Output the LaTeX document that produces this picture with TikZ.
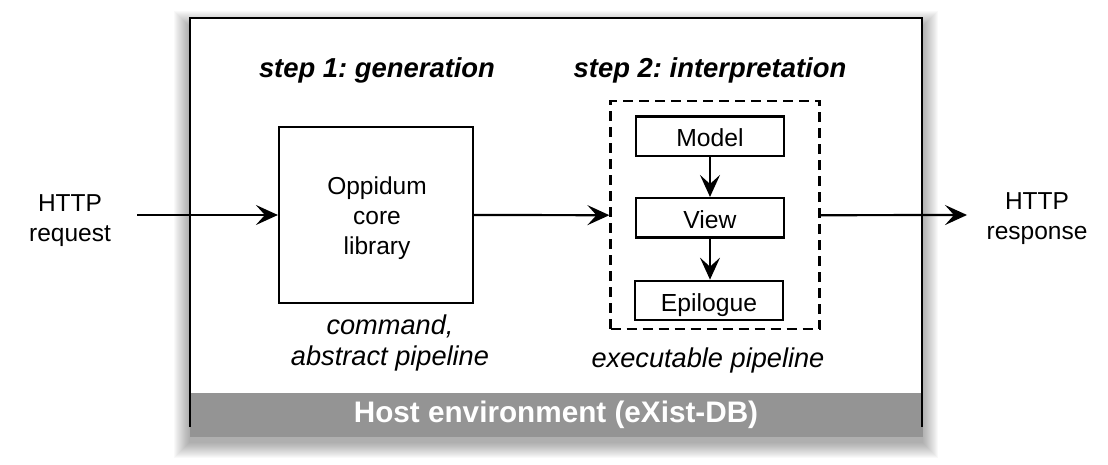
\documentclass[tikz,border=0pt]{standalone}
\usepackage{fontspec}
\setmainfont{Liberation Sans}
\usetikzlibrary{arrows.meta}
\definecolor{hostgray}{HTML}{949494}
\frenchspacing
\tikzset{
  arr/.style={line width=2.2pt, -{Stealth[length=22pt,width=20pt,inset=9pt]}},
  box/.style={draw, line width=2.2pt, fill=white, inner sep=0pt},
  stagebox/.style={box, minimum width=148pt, minimum height=39.5pt, text height=21pt, text depth=0pt, font=\fontsize{24.7}{30}\selectfont},
  pipe/.style={draw, line width=2.2pt, dash pattern=on 10pt off 6pt, inner sep=0pt},
  plain/.style={font=\fontsize{24.5}{30}\selectfont, align=center, inner sep=0pt},
  ital/.style={font=\fontsize{27.2}{31}\selectfont\itshape, align=center, inner sep=0pt},
  title/.style={font=\fontsize{27.4}{31}\selectfont\bfseries\itshape, inner sep=0pt, anchor=base},
  hosttext/.style={font=\fontsize{29.7}{33}\selectfont\bfseries, text=white, inner sep=0pt, anchor=base}
}
\begin{document}
\begin{tikzpicture}[x=1pt,y=-1pt]
\useasboundingbox (0,0) rectangle (1108,465);
% soft shadow of the host frame
\foreach \i in {1,...,16}{
  \fill[black, opacity=0.022] (190-\i,18-\i+9) rectangle (922+\i,437+\i+5);
}
\fill[white] (190,18) rectangle (922,437);
% host bar
\fill[hostgray] (190,393) rectangle (923,437);
\draw[line width=2.2pt] (190,427) -- (190,18) -- (922,18) -- (922,427);
\node[hosttext] (host) at (556,422.7) {Host environment (eXist-DB)};

% titles
\node[title] (t1) at (377,78) {step 1: generation};
\node[title] (t2) at (710,78) {step 2: interpretation};

% step 1
\node[box, minimum width=194pt, minimum height=176pt] (opp) at (376,215) {};
\node[plain] (oppl) at (377,218.6) {Oppidum\\core\\library};
\node[ital] (cmd) at (390,343.4) {command,\\abstract pipeline};

% step 2
\node[pipe, minimum width=209pt, minimum height=228pt] (pipe) at (715,215.2) {};
\node[stagebox] (model) at (710,136.2) {Model};
\node[stagebox] (view) at (710,217.8) {View};
\node[stagebox] (epi) at (709,300.5) {Epilogue};
\node[ital, anchor=base] (exe) at (708,367) {executable pipeline};

% outside
\node[plain] (req) at (70,220.3) {HTTP\\request};
\node[plain] (resp) at (1037,219) {HTTP\\response};
\coordinate (reqend) at (137,215);
\coordinate (respend) at (967,215);

% connectors
\draw[arr] (reqend) -- (opp.west);
\draw[arr] (opp.east) -- (pipe.west);
\draw[arr] (pipe.east) -- (respend);
\draw[arr] (model.south) -- (view.north);
\draw[arr] (view.south) -- (view.south |- epi.north);
\end{tikzpicture}
\end{document}
